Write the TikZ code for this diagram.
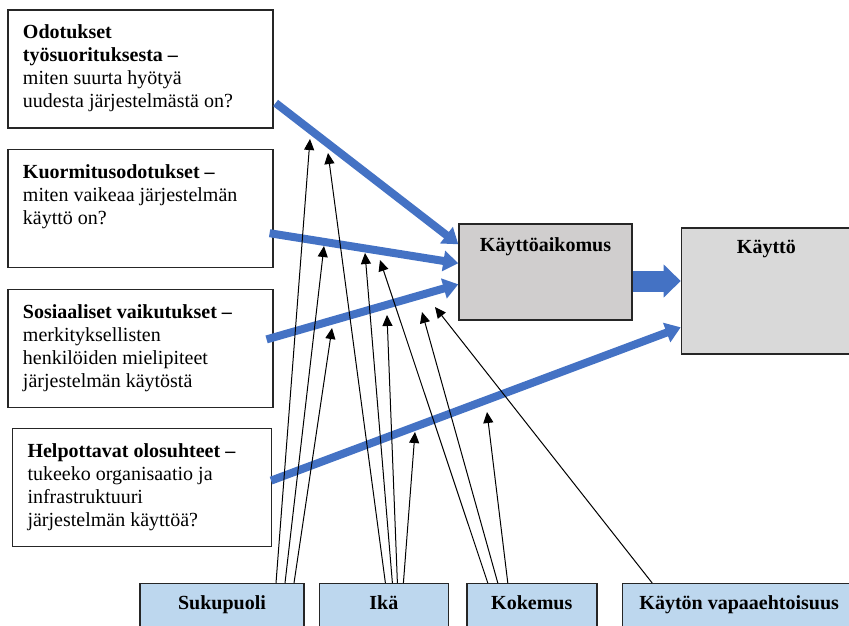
\documentclass[tikz,border=0pt]{standalone}
\usepackage{fontspec}
\setmainfont{Liberation Serif}
\usetikzlibrary{arrows.meta, positioning, calc}
\definecolor{cBlue}{HTML}{4472C4}
\definecolor{cLight}{HTML}{BDD7EE}
\definecolor{cGrayA}{HTML}{D0CECE}
\definecolor{cGrayB}{HTML}{D9D9D9}
\definecolor{cLine}{HTML}{262626}
\tikzset{
  qbox/.style={
    rectangle, draw=cLine, line width=1.2pt, fill=white,
    inner sep=15pt, font=\fontsize{20}{23}\selectfont
  },
  gbox/.style={
    rectangle, draw=cLine, line width=1.4pt, fill=#1,
    inner sep=0pt, font=\fontsize{20}{23}\selectfont\bfseries
  },
  mbox/.style={
    rectangle, draw=cLine, line width=1.4pt, fill=cLight, anchor=north,
    inner sep=0pt, text height=26pt, text depth=20pt,
    font=\fontsize{20}{23}\selectfont\bfseries
  },
  arrow/.style={-{Triangle[width=10pt, length=11pt]}, line width=1pt, black},
  barrow/.style={-{Triangle[width=20pt, length=15pt]}, line width=8pt, cBlue},
  fatarrow/.style={-{Triangle[width=32pt, length=17pt]}, line width=21pt, cBlue},
}
\begin{document}
\begin{tikzpicture}[x=1pt, y=-1pt]

  \useasboundingbox (0,0) rectangle (849,625);
  \clip (0,0) rectangle (849,625);

  % Determinants
  \node[qbox] (pe) at (140.5,69) {\parbox[c][88pt][t]{235pt}{%
    \textbf{Odotukset}\\
    \textbf{työsuorituksesta –}\\
    miten suurta hyötyä\\
    uudesta järjestelmästä on?}};
  \node[qbox, below=20pt of pe] (ee) {\parbox[c][88pt][t]{235pt}{%
    \textbf{Kuormitusodotukset –}\\
    miten vaikeaa järjestelmän\\
    käyttö on?}};
  \node[qbox, below=21pt of ee] (si) {\parbox[c][88pt][t]{235pt}{%
    \textbf{Sosiaaliset vaikutukset –}\\
    merkityksellisten\\
    henkilöiden mielipiteet\\
    järjestelmän käytöstä}};
  \node[qbox, below=20pt of si, xshift=1.5pt] (fc) {\parbox[c][88pt][t]{229pt}{%
    \textbf{Helpottavat olosuhteet –}\\
    tukeeko organisaatio ja\\
    infrastruktuuri\\
    järjestelmän käyttöä?}};

  % Intention and use
  \node[gbox=cGrayA, minimum width=173pt, text height=27pt, text depth=69pt]
    (intent) at (545.5,272) {Käyttöaikomus};
  \node[gbox=cGrayB, minimum width=170pt, text height=25pt, text depth=101pt,
        right=48pt of intent, yshift=-19pt] (use) {Käyttö};

  % Moderators
  \node[mbox, minimum width=164pt] (gender) at (222,583) {Sukupuoli};
  \node[mbox, minimum width=129pt, right=14pt of gender] (age) {Ikä};
  \node[mbox, minimum width=130pt, right=17pt of age] (exp) {Kokemus};
  \node[mbox, minimum width=234pt, right=24pt of exp] (vol) {Käytön vapaaehtoisuus};

  % Main paths
  \draw[barrow] ($(pe.east)+(2,34)$) -- ($(intent.north west)+(0,21)$);
  \draw[barrow] ($(ee.east)+(-4,25)$) -- ($(intent.north west)+(0,40)$);
  \draw[barrow] ($(si.east)+(-7,-9)$) -- ($(intent.north west)+(0,61)$);
  \draw[barrow] ($(fc.east)+(-1,-7)$) -- ($(use.north west)+(0,100)$);
  \draw[fatarrow] ([yshift=-9pt]intent.east) -- ([yshift=-9pt]intent.east -| use.west);

  % Moderated paths
  \coordinate (pe1) at (310,139);
  \coordinate (pe2) at (328,153);
  \coordinate (ee1) at (324,246);
  \coordinate (ee2) at (365,253);
  \coordinate (ee3) at (380,260);
  \coordinate (si1) at (332,328);
  \coordinate (si2) at (387,315);
  \coordinate (si3) at (422,312);
  \coordinate (si4) at (435,307);
  \coordinate (fc1) at (415,432);
  \coordinate (fc2) at (487,412);

  \draw[arrow] ([xshift=54pt]gender.north) -- (pe1);
  \draw[arrow] ([xshift=63pt]gender.north) -- (ee1);
  \draw[arrow] ([xshift=72pt]gender.north) -- (si1);
  \draw[arrow] ([xshift=1.5pt]age.north) -- (pe2);
  \draw[arrow] ([xshift=8.5pt]age.north) -- (ee2);
  \draw[arrow] ([xshift=13.5pt]age.north) -- (si2);
  \draw[arrow] ([xshift=19.5pt]age.north) -- (fc1);
  \draw[arrow] ([xshift=-44pt]exp.north) -- (ee3);
  \draw[arrow] ([xshift=-34pt]exp.north) -- (si3);
  \draw[arrow] ([xshift=-24pt]exp.north) -- (fc2);
  \draw[arrow] ([xshift=-87pt]vol.north) -- (si4);

\end{tikzpicture}
\end{document}
